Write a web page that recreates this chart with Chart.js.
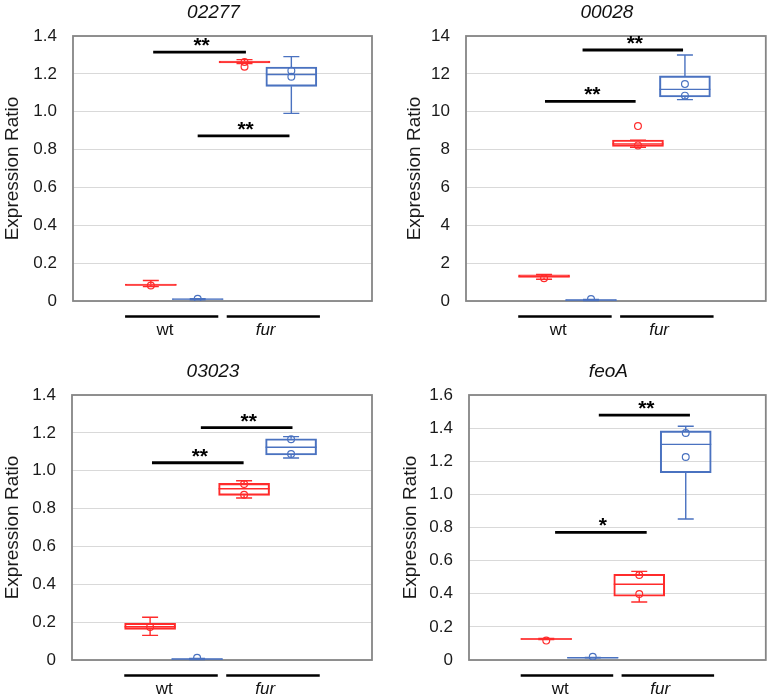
<!DOCTYPE html>
<html><head><meta charset="utf-8">
<script src="https://cdn.jsdelivr.net/npm/chart.js@4.4.1/dist/chart.umd.min.js"></script>
<style>
html,body{margin:0;padding:0;background:#fff;width:771px;height:694px;overflow:hidden;font-family:"Liberation Sans",Arial,sans-serif;}
canvas{position:absolute;}
</style></head><body>
<canvas id="c0" width="390" height="347" style="left:0;top:0"></canvas>
<canvas id="c1" width="381" height="347" style="left:390px;top:0"></canvas>
<canvas id="c2" width="390" height="335" style="left:0;top:359px"></canvas>
<canvas id="c3" width="381" height="335" style="left:390px;top:359px"></canvas>
<script>
// ---------- data ----------
const panelTitles = ['02277', '00028', '03023', 'feoA'];
const positions = [1, 2, 3, 4];            // red-wt, blue-wt, red-fur, blue-fur
const groupLabels = ['wt', 'fur'];
const groupSpans = [[0.45, 2.44], [2.62, 4.61]];
const groupLabelPos = [1.3, 3.45];
const yAxisTitle = 'Expression Ratio';

const yMaxes = [1.4, 14, 1.4, 1.6];
const ySteps = [0.2, 2, 0.2, 0.2];
const yTicks02277 = ['0', '0.2', '0.4', '0.6', '0.8', '1.0', '1.2', '1.4'];
const yTicks00028 = ['0', '2', '4', '6', '8', '10', '12', '14'];
const yTicks03023 = ['0', '0.2', '0.4', '0.6', '0.8', '1.0', '1.2', '1.4'];
const yTicksFeoA = ['0', '0.2', '0.4', '0.6', '0.8', '1.0', '1.2', '1.4', '1.6'];

// box stats per position: [min, q1, median, q3, max]
const box02277 = [[0.076, 0.082, 0.085, 0.09, 0.108], [0.006, 0.008, 0.01, 0.011, 0.012],
                  [1.255, 1.258, 1.263, 1.268, 1.275], [0.991, 1.134, 1.197, 1.236, 1.291]];
const pts02277 = [[0.082], [0.012], [1.262, 1.238], [1.217, 1.185]];
const sig02277 = [[1.05, 3.03, 1.315, '**'], [2.0, 3.96, 0.872, '**']];

const box00028 = [[1.15, 1.24, 1.3, 1.38, 1.4], [0.02, 0.03, 0.05, 0.06, 0.08],
                  [8.12, 8.17, 8.3, 8.5, 8.5], [10.64, 10.78, 11.18, 11.89, 13.0]];
const pts00028 = [[1.2], [0.1], [8.22, 9.24], [11.46, 10.85]];
const sig00028 = [[1.82, 3.96, 13.26, '**'], [1.02, 2.95, 10.55, '**']];

const box03023 = [[0.130, 0.162, 0.176, 0.194, 0.226], [0.002, 0.003, 0.005, 0.006, 0.008],
                  [0.856, 0.870, 0.905, 0.933, 0.947], [1.067, 1.083, 1.124, 1.169, 1.18]];
const pts03023 = [[0.174], [0.012], [0.93, 0.873], [1.166, 1.088]];
const sig03023 = [[2.08, 4.03, 1.228, '**'], [1.04, 2.99, 1.042, '**']];

const boxFeoA = [[0.124, 0.125, 0.127, 0.129, 0.13], [0.012, 0.013, 0.014, 0.015, 0.016],
                 [0.350, 0.385, 0.457, 0.517, 0.535], [0.851, 1.131, 1.302, 1.383, 1.411]];
const ptsFeoA = [[0.117], [0.02], [0.513, 0.398], [1.371, 1.226]];
const sigFeoA = [[2.13, 4.09, 1.479, '**'], [1.19, 3.16, 0.771, '*']];

// ---------- styling ----------
const RED = '#FF2B2B', BLUE = '#4A72C0';
const seriesColors = [RED, BLUE, RED, BLUE];
const FONT = '"Liberation Sans", Arial, sans-serif';

const boxPlugin = {
  id: 'boxplot',
  beforeDatasetsDraw(chart) {
    const o = chart.options.plugins.boxplot;
    const {ctx, chartArea: a, scales: {x, y}} = chart;
    ctx.save();
    ctx.strokeStyle = '#858585';
    ctx.lineWidth = 1.8;
    ctx.strokeRect(a.left, a.top, a.right - a.left, a.bottom - a.top);
    o.boxes.forEach((b, i) => {
      const cx = x.getPixelForValue(positions[i]);
      const [mn, q1, md, q3, mx] = b.map(v => y.getPixelForValue(v));
      ctx.strokeStyle = seriesColors[i];
      ctx.lineWidth = 1.4;
      ctx.beginPath();
      ctx.moveTo(cx, q1); ctx.lineTo(cx, mn);
      ctx.moveTo(cx, q3); ctx.lineTo(cx, mx);
      ctx.moveTo(cx - 8, mn); ctx.lineTo(cx + 8, mn);
      ctx.moveTo(cx - 8, mx); ctx.lineTo(cx + 8, mx);
      ctx.moveTo(cx - 25.5, md); ctx.lineTo(cx + 25.5, md);
      ctx.stroke();
    });
    ctx.restore();
  },
  afterDatasetsDraw(chart) {
    const o = chart.options.plugins.boxplot;
    const {ctx, scales: {x, y}} = chart;
    ctx.save();
    o.sigs.forEach(s => {
      const x1 = x.getPixelForValue(s[0]), x2 = x.getPixelForValue(s[1]);
      const yy = y.getPixelForValue(s[2]);
      ctx.strokeStyle = '#000';
      ctx.lineWidth = 2.8;
      ctx.beginPath(); ctx.moveTo(x1, yy); ctx.lineTo(x2, yy); ctx.stroke();
      ctx.fillStyle = '#000';
      ctx.font = 'bold 21px ' + FONT;
      ctx.textAlign = 'center';
      ctx.textBaseline = 'alphabetic';
      ctx.fillText(s[3], (x1 + x2) / 2 + 2, yy);
    });
    ctx.restore();
  },
  afterDraw(chart) {
    const o = chart.options.plugins.boxplot;
    const {ctx, chartArea: a, scales: {x}} = chart;
    ctx.save();
    groupSpans.forEach((g, i) => {
      ctx.strokeStyle = '#000';
      ctx.lineWidth = 2.6;
      ctx.beginPath();
      ctx.moveTo(x.getPixelForValue(g[0]), a.bottom + 15.5);
      ctx.lineTo(x.getPixelForValue(g[1]), a.bottom + 15.5);
      ctx.stroke();
      ctx.fillStyle = '#111';
      ctx.font = (i === 1 ? 'italic ' : '') + '17px ' + FONT;
      ctx.textAlign = 'center';
      ctx.textBaseline = 'middle';
      ctx.fillText(groupLabels[i], x.getPixelForValue(groupLabelPos[i]), a.bottom + 29.5);
    });
    ctx.fillStyle = '#111';
    ctx.font = 'italic 19px ' + FONT;
    ctx.textAlign = 'center';
    ctx.textBaseline = 'middle';
    ctx.fillText(o.title, (a.left + a.right) / 2 - 9, a.top - 23);
    ctx.restore();
  }
};

const panels = [
  {id: 'c0', boxes: box02277, pts: pts02277, sigs: sig02277, ticks: yTicks02277, plotL: 73, plotR: 372, padL: 0},
  {id: 'c1', boxes: box00028, pts: pts00028, sigs: sig00028, ticks: yTicks00028, plotL: 76, plotR: 378, padL: 12},
  {id: 'c2', boxes: box03023, pts: pts03023, sigs: sig03023, ticks: yTicks03023, plotL: 72, plotR: 372, padL: 0},
  {id: 'c3', boxes: boxFeoA, pts: ptsFeoA, sigs: sigFeoA, ticks: yTicksFeoA, plotL: 79, plotR: 378, padL: 8}
];

panels.forEach((p, k) => {
  const cv = document.getElementById(p.id);
  const pointData = [], pointColors = [];
  p.pts.forEach((arr, i) => arr.forEach(v => { pointData.push({x: positions[i], y: v}); pointColors.push(seriesColors[i]); }));
  new Chart(cv, {
    type: 'bar',
    data: {
      datasets: [
        {
          type: 'scatter',
          data: pointData,
          pointRadius: 3.4,
          pointBorderWidth: 1.2,
          pointBackgroundColor: 'rgba(255,255,255,0)',
          pointBorderColor: pointColors,
          order: 1
        },
        {
          type: 'bar',
          data: positions.map((pos, i) => ({x: pos, y: [p.boxes[i][1], p.boxes[i][3]]})),
          backgroundColor: 'rgba(255,255,255,0)',
          borderColor: seriesColors,
          borderWidth: 1.4,
          borderSkipped: false,
          barThickness: 51,
          order: 2
        }
      ]
    },
    options: {
      responsive: false,
      animation: false,
      devicePixelRatio: 1,
      layout: {padding: {left: p.padL, top: 36, right: cv.width - p.plotR, bottom: cv.height - 301}},
      plugins: {
        legend: {display: false},
        tooltip: {enabled: false},
        boxplot: {boxes: p.boxes, sigs: p.sigs, title: panelTitles[k]}
      },
      scales: {
        x: {type: 'linear', min: -0.13, max: 5.19, display: false},
        y: {
          min: 0, max: yMaxes[k],
          afterFit: s => { s.width = p.plotL - p.padL; },
          ticks: {
            stepSize: ySteps[k],
            padding: 16,
            color: '#1a1a1a',
            font: {family: FONT, size: 17},
            callback: v => p.ticks[Math.round(v / ySteps[k])]
          },
          grid: {color: '#d9d9d9', lineWidth: 1, drawTicks: false},
          border: {display: false},
          title: {display: true, text: yAxisTitle, color: '#1a1a1a', font: {family: FONT, size: 19}, padding: {top: 1, bottom: 0}}
        }
      }
    },
    plugins: [boxPlugin]
  });
});
</script>
</body></html>
